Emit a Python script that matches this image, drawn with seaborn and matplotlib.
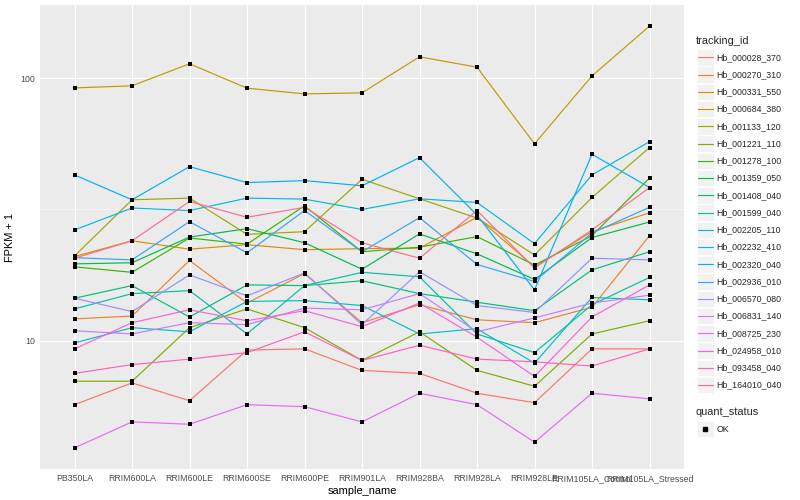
import matplotlib
matplotlib.use("Agg")
import matplotlib.pyplot as plt
from matplotlib.lines import Line2D
from matplotlib.patches import Rectangle
from matplotlib.ticker import FixedLocator
import seaborn as sns
import pandas as pd
import numpy as np

samples = ["PB350LA", "RRIM600LA", "RRIM600LE", "RRIM600SE", "RRIM600PE", "RRIM901LA",
           "RRIM928BA", "RRIM928LA", "RRIM928LE", "RRIM105LA_Control", "RRIM105LA_Stressed"]

genes = ["Hb_000028_370", "Hb_000270_310", "Hb_000331_550", "Hb_000684_380", "Hb_001133_120",
         "Hb_001221_110", "Hb_001278_100", "Hb_001359_050", "Hb_001408_040", "Hb_001599_040",
         "Hb_002205_110", "Hb_002232_410", "Hb_002320_040", "Hb_002936_010", "Hb_006570_080",
         "Hb_006831_140", "Hb_008725_230", "Hb_024958_010", "Hb_093458_040", "Hb_164010_040"]

# FPKM + 1 per sample
hb_000028_370 = [5.7, 6.9, 5.9, 9.2, 9.3, 7.7, 7.5, 6.3, 5.8, 9.3, 9.3]
hb_000270_310 = [12.1, 12.4, 20.2, 13.9, 18.0, 11.7, 13.7, 12.0, 11.7, 13.4, 25.1]
hb_000331_550 = [20.9, 24.0, 22.3, 23.2, 22.2, 22.4, 22.5, 29.5, 19.1, 26.0, 30.7]
hb_000684_380 = [91.8, 93.5, 113.4, 91.6, 87.1, 87.9, 120.6, 110.1, 56.2, 102.0, 157.9]
hb_001133_120 = [21.0, 34.4, 34.9, 25.4, 26.0, 41.2, 34.7, 29.3, 21.2, 35.1, 54.4]
hb_001221_110 = [7.0, 7.0, 11.2, 13.2, 11.2, 8.4, 10.8, 7.7, 6.7, 10.6, 11.9]
hb_001278_100 = [19.1, 18.2, 24.6, 23.3, 32.6, 21.8, 22.7, 24.9, 19.4, 25.1, 41.6]
hb_001359_050 = [19.6, 19.8, 24.8, 26.7, 23.6, 18.7, 25.5, 21.4, 17.1, 24.7, 28.3]
hb_001408_040 = [14.5, 16.2, 12.3, 16.3, 16.2, 16.9, 15.1, 14.0, 13.0, 18.6, 21.8]
hb_001599_040 = [13.2, 15.1, 15.5, 10.6, 16.2, 18.2, 17.5, 10.6, 9.0, 13.7, 17.4]
hb_002205_110 = [9.8, 11.2, 10.8, 14.1, 14.2, 13.6, 10.6, 11.1, 8.2, 14.6, 14.3]
hb_002232_410 = [26.4, 32.0, 31.3, 34.9, 34.6, 31.6, 34.7, 33.6, 23.4, 42.8, 57.3]
hb_002320_040 = [42.8, 34.4, 46.0, 40.0, 40.7, 38.9, 49.8, 30.1, 15.6, 51.3, 38.3]
hb_002936_010 = [20.7, 20.3, 28.4, 21.6, 31.3, 21.8, 29.4, 19.5, 16.8, 25.7, 32.2]
hb_006570_080 = [14.5, 12.9, 17.8, 14.8, 18.1, 11.5, 18.3, 13.6, 12.8, 20.6, 20.3]
hb_006831_140 = [10.9, 10.6, 11.7, 11.5, 13.3, 13.1, 15.1, 10.8, 12.2, 13.9, 14.9]
hb_008725_230 = [3.9, 4.9, 4.8, 5.7, 5.6, 4.9, 6.3, 5.7, 4.1, 6.3, 6.0]
hb_024958_010 = [9.3, 11.7, 13.1, 11.9, 13.0, 11.3, 13.9, 10.3, 7.3, 12.3, 16.3]
hb_093458_040 = [7.5, 8.1, 8.5, 9.0, 10.8, 8.4, 9.6, 8.5, 8.3, 8.0, 9.3]
hb_164010_040 = [20.6, 24.0, 33.9, 29.5, 32.2, 23.6, 20.6, 31.3, 18.9, 26.4, 38.3]

series = [hb_000028_370, hb_000270_310, hb_000331_550, hb_000684_380, hb_001133_120,
          hb_001221_110, hb_001278_100, hb_001359_050, hb_001408_040, hb_001599_040,
          hb_002205_110, hb_002232_410, hb_002320_040, hb_002936_010, hb_006570_080,
          hb_006831_140, hb_008725_230, hb_024958_010, hb_093458_040, hb_164010_040]

# ggplot2 default hue palette for 20 levels
colors = ["#F8766D", "#EA8331", "#D89000", "#C09B00", "#A3A500", "#7CAE00", "#39B600",
          "#00BB4E", "#00BF7D", "#00C1A3", "#00BFC4", "#00BAE0", "#00B0F6", "#35A2FF",
          "#9590FF", "#C77CFF", "#E76BF3", "#FA62DB", "#FF62BC", "#FF6C91"]

rows = []
for g, vals in zip(genes, series):
    for i, (s, v) in enumerate(zip(samples, vals)):
        rows.append({"tracking_id": g, "sample_name": s, "pos": i, "fpkm1": v, "quant_status": "OK"})
df = pd.DataFrame(rows)

sns.set_theme(style="darkgrid", rc={"axes.facecolor": "#EBEBEB", "grid.color": "white"})
plt.rcParams["font.family"] = ["Liberation Sans", "DejaVu Sans"]

W, H = 800, 500
fig = plt.figure(figsize=(8, 5), dpi=100)
fig.patch.set_facecolor("white")
ax = fig.add_axes([40 / W, 1 - 469 / H, (684 - 40) / W, (469 - 5) / H])

sns.lineplot(data=df, x="pos", y="fpkm1", hue="tracking_id", hue_order=genes,
             palette=colors, estimator=None, linewidth=0.85, legend=False, ax=ax)
sns.scatterplot(data=df, x="pos", y="fpkm1", color="black", marker="s", s=8,
                linewidth=0, legend=False, ax=ax, zorder=3)

ax.set_yscale("log")
lo, hi = np.log10(df["fpkm1"].min()), np.log10(df["fpkm1"].max())
pad = (hi - lo) * 0.05
ax.set_ylim(10 ** (lo - pad), 10 ** (hi + pad))
ax.set_xlim(-0.6, len(samples) - 0.4)

ax.set_yticks([10, 100])
ax.set_yticklabels(["10", "100"])
ax.yaxis.set_minor_locator(FixedLocator([10 ** 0.5, 10 ** 1.5, 10 ** 2.5]))
ax.set_xticks(range(len(samples)))
ax.set_xticklabels(samples)
ax.grid(which="major", color="white", linewidth=0.8)
ax.grid(which="minor", axis="y", color="white", linewidth=0.4)
for sp in ax.spines.values():
    sp.set_visible(False)
ax.tick_params(axis="both", which="major", length=2, width=0.6, color="#333333",
               labelsize=6.3, labelcolor="#4D4D4D", pad=1.5)
ax.tick_params(axis="y", which="minor", length=0)
ax.set_xlabel("sample_name", fontsize=7.9, color="black", labelpad=2)
ax.set_ylabel("FPKM + 1", fontsize=7.9, color="black", labelpad=4)


def fp(x, y):
    return (x / W, 1 - y / H)


# legend drawn the ggplot way: grey key boxes with a line through
fig.text(*fp(696, 40.7), "tracking_id", fontsize=7.9, va="center", ha="left")
for i, (g, c) in enumerate(zip(genes, colors)):
    yc = 57.3 + 17.25 * i
    x0, y0 = fp(697, yc + 8.3)
    fig.add_artist(Rectangle((x0, y0), 16.5 / W, 16.5 / H, transform=fig.transFigure,
                             facecolor="#F2F2F2", edgecolor="white", linewidth=0.6))
    fig.add_artist(Line2D([698 / W, 713 / W], [1 - yc / H] * 2, transform=fig.transFigure,
                          color=c, linewidth=0.85))
    fig.text(*fp(716.5, yc), g, fontsize=6.3, va="center", ha="left")

fig.text(*fp(696, 412.3), "quant_status", fontsize=7.9, va="center", ha="left")
x0, y0 = fp(697, 429 + 8.3)
fig.add_artist(Rectangle((x0, y0), 16.5 / W, 16.5 / H, transform=fig.transFigure,
                         facecolor="#F2F2F2", edgecolor="white", linewidth=0.6))
fig.add_artist(Line2D([705.3 / W], [1 - 429 / H], transform=fig.transFigure, marker="s",
                      markersize=2.9, color="black", linestyle="none"))
fig.text(*fp(716.5, 429), "OK", fontsize=6.3, va="center", ha="left")

fig.savefig("out.png", dpi=100)
